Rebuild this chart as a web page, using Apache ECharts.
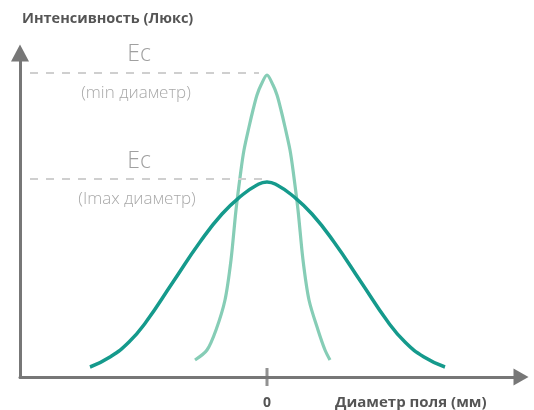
<!DOCTYPE html>
<html>
<head>
<meta charset="utf-8">
<script src="https://cdn.jsdelivr.net/npm/echarts@6/dist/echarts.min.js"></script>
<style>html,body{margin:0;padding:0;background:#fff}#c{width:534px;height:410px}</style>
</head>
<body>
<div id="c"></div>
<script>
// Narrow beam (min diameter) profile: [diameter, intensity]
const narrowX = [-72, -60, -51, -42, -36, -31, -26, -23, -18, -14, -10, -6, 0, 6, 10, 14, 18, 23, 26, 31, 36, 42, 51, 58, 63];
const narrowY = [17, 27, 47, 77, 117, 167, 207, 227, 250, 267, 282, 292, 302, 292, 282, 267, 250, 227, 207, 167, 117, 77, 47, 27, 17];
// Wide beam (Imax diameter) profile
const wideX = [-177, -157, -138, -121, -94, -67, -45, -26, -10, 0, 10, 26, 45, 67, 94, 121, 138, 157, 178];
const wideY = [10, 20, 35, 55, 95, 135, 163, 181, 192, 195, 192, 181, 163, 135, 95, 55, 35, 20, 10];
// Ec levels marked with dashed lines
const ecLevels = [304, 198];
const xTickValues = [0];
const xAxisMin = -247, xAxisMax = 254, yAxisMax = 324;

const pairs = (xs, ys) => xs.map((x, i) => [x, ys[i]]);
const dash = (lvl, endX) => [{coord: [xAxisMin + 10, lvl]}, {coord: [endX, lvl]}];

const chart = echarts.init(document.getElementById('c'), null, {renderer: 'canvas'});
chart.setOption({
  animation: false,
  backgroundColor: '#fff',
  grid: {left: 20, right: 13, top: 53, bottom: 33, outerBoundsMode: 'none', containLabel: false},
  xAxis: {
    type: 'value', min: xAxisMin, max: xAxisMax,
    splitLine: {show: false},
    axisLine: {show: true, onZero: false, lineStyle: {color: '#777', width: 3},
      symbol: ['none', 'triangle'], symbolSize: [17, 15]},
    axisTick: {show: false},
    axisLabel: {show: true, customValues: xTickValues, color: '#555', fontWeight: 'bold',
      fontFamily: 'Open Sans', fontSize: 14, margin: 19}
  },
  yAxis: {
    type: 'value', min: 0, max: yAxisMax,
    splitLine: {show: false},
    axisLine: {show: true, onZero: false, lineStyle: {color: '#777', width: 3},
      symbol: ['none', 'triangle'], symbolSize: [18, 17]},
    axisTick: {show: false},
    axisLabel: {show: false}
  },
  series: [
    {
      type: 'line', data: pairs(narrowX, narrowY), smooth: 0.3, showSymbol: false, silent: true,
      lineStyle: {color: '#86cdb6', width: 3.2}, z: 3,
      markLine: {silent: true, symbol: ['none', 'none'], label: {show: false},
        lineStyle: {color: '#cfcfcf', type: [8, 8], width: 2},
        data: [dash(ecLevels[0], -8)]}
    },
    {
      type: 'line', data: pairs(wideX, wideY), smooth: 0.5, showSymbol: false, silent: true,
      lineStyle: {color: '#159a8c', width: 3.5}, z: 4,
      markLine: {silent: true, symbol: ['none', 'none'], label: {show: false},
        lineStyle: {color: '#cfcfcf', type: [8, 8], width: 2},
        data: [dash(ecLevels[1], -5)]}
    },
    {
      type: 'scatter', data: xTickValues.map(v => [v, 0]), symbol: 'rect', symbolSize: [3, 18],
      itemStyle: {color: '#777'}, silent: true, z: 5
    }
  ],
  graphic: [
    {type: 'text', left: 22, top: 11, style: {text: 'Интенсивность (Люкс)', fill: '#555',
      font: 'bold 14.5px "Open Sans"'}},
    {type: 'text', x: 335, y: 403, style: {text: 'Диаметр поля (мм)', fill: '#555',
      font: 'bold 15px "Open Sans"', verticalAlign: 'middle'}},
    {type: 'text', x: 139, y: 54, style: {text: 'Ec', fill: '#a0a0a0', font: '300 23px "Open Sans"',
      align: 'center', verticalAlign: 'middle'}},
    {type: 'text', x: 136, y: 93, style: {text: '(min диаметр)', fill: '#a8a8a8', font: '300 17px "Open Sans"',
      align: 'center', verticalAlign: 'middle'}},
    {type: 'text', x: 139, y: 161, style: {text: 'Ec', fill: '#a0a0a0', font: '300 23px "Open Sans"',
      align: 'center', verticalAlign: 'middle'}},
    {type: 'text', x: 137, y: 199, style: {text: '(Imax диаметр)', fill: '#a8a8a8', font: '300 17px "Open Sans"',
      align: 'center', verticalAlign: 'middle'}}
  ]
});
</script>
</body>
</html>
